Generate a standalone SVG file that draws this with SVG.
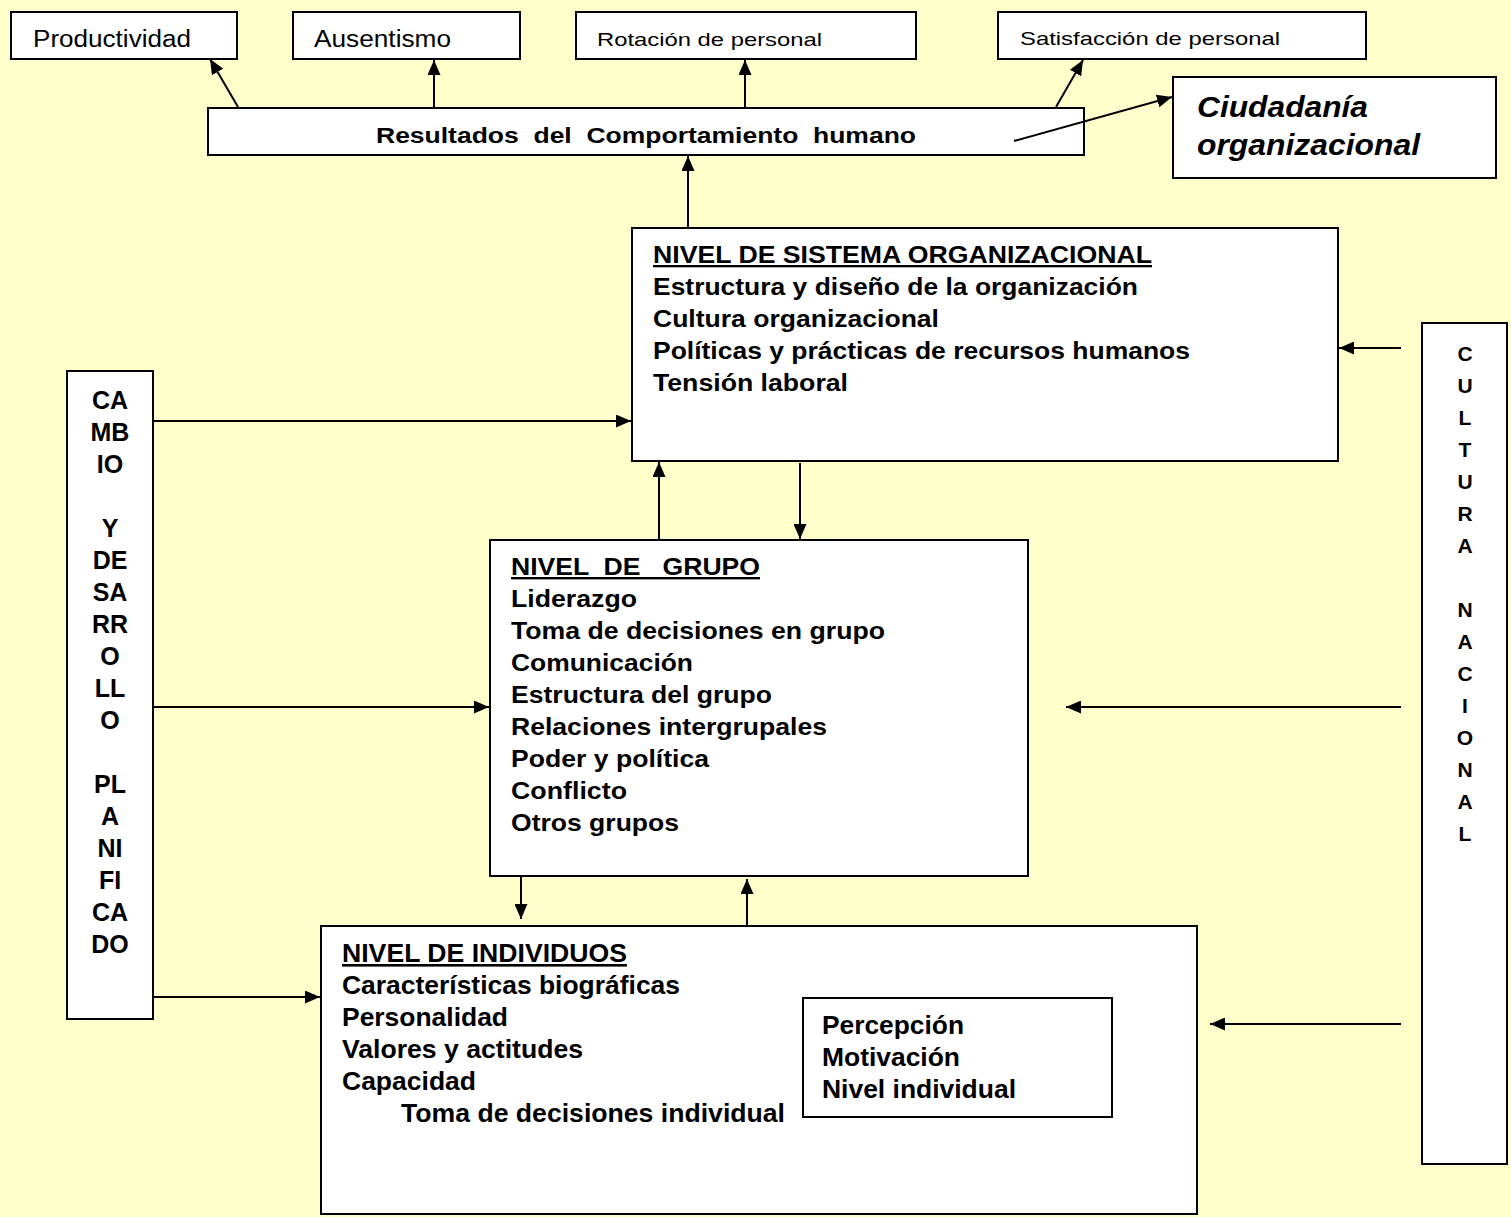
<svg xmlns="http://www.w3.org/2000/svg" width="1511" height="1217" viewBox="0 0 1511 1217">
<defs>
<marker id="ah" viewBox="0 0 15 13" refX="15" refY="6.5" markerWidth="15" markerHeight="13" markerUnits="userSpaceOnUse" orient="auto">
<path d="M0,0 L15,6.5 L0,13 Z" fill="#000"/>
</marker>
<style>
.box{fill:#fff;stroke:#000;stroke-width:2}
.t{font-family:"Liberation Sans",Arial,sans-serif;fill:#000}
.n{font-size:23px}
.s{font-size:19px}
.b{font-weight:bold;font-size:24px}
.bs{font-weight:bold;font-size:23px}
.bi{font-weight:bold;font-size:26px}
.v{font-weight:bold;font-size:25px;text-anchor:middle}
.vr{font-weight:bold;font-size:21px;text-anchor:middle}
.c{stroke:#000;stroke-width:2;fill:none;marker-end:url(#ah)}
</style>
</defs>
<rect width="1511" height="1217" fill="#FFFFCC"/>

<g id="productividad"><rect class="box" x="11" y="12" width="226" height="47"/><text class="t n" x="33" y="47" textLength="158" lengthAdjust="spacingAndGlyphs">Productividad</text></g>
<g id="ausentismo"><rect class="box" x="293" y="12" width="227" height="47"/><text class="t n" x="314" y="47" textLength="137" lengthAdjust="spacingAndGlyphs">Ausentismo</text></g>
<g id="rotacion"><rect class="box" x="576" y="12" width="340" height="47"/><text class="t s" x="597" y="46" textLength="225" lengthAdjust="spacingAndGlyphs">Rotación de personal</text></g>
<g id="satisfaccion"><rect class="box" x="998" y="12" width="368" height="47"/><text class="t s" x="1020" y="45" textLength="260" lengthAdjust="spacingAndGlyphs">Satisfacción de personal</text></g>
<g id="resultados"><rect class="box" x="208" y="108" width="876" height="47"/><text class="t" x="376" y="143" font-size="22" font-weight="bold" textLength="540" lengthAdjust="spacingAndGlyphs" xml:space="preserve">Resultados  del  Comportamiento  humano</text></g>
<g id="ciudadania"><rect class="box" x="1173" y="77" width="323" height="101"/><text class="t" x="1197" y="117" font-size="29" font-weight="bold" font-style="italic" textLength="171" lengthAdjust="spacingAndGlyphs">Ciudadanía</text><text class="t" x="1197" y="155" font-size="29" font-weight="bold" font-style="italic" textLength="223" lengthAdjust="spacingAndGlyphs">organizacional</text></g>

<g id="sistema"><rect class="box" x="632" y="228" width="706" height="233"/>
<text class="t bs" x="653" y="263" text-decoration="underline" textLength="499" lengthAdjust="spacingAndGlyphs">NIVEL DE SISTEMA ORGANIZACIONAL</text>
<text class="t bs" x="653" y="295" textLength="485" lengthAdjust="spacingAndGlyphs">Estructura y diseño de la organización</text>
<text class="t bs" x="653" y="327" textLength="286" lengthAdjust="spacingAndGlyphs">Cultura organizacional</text>
<text class="t bs" x="653" y="359" textLength="537" lengthAdjust="spacingAndGlyphs">Políticas y prácticas de recursos humanos</text>
<text class="t bs" x="653" y="391" textLength="195" lengthAdjust="spacingAndGlyphs">Tensión laboral</text>
</g>

<g id="grupo"><rect class="box" x="490" y="540" width="538" height="336"/>
<text class="t b" x="511" y="575" text-decoration="underline" textLength="249" lengthAdjust="spacingAndGlyphs" xml:space="preserve">NIVEL  DE   GRUPO</text>
<text class="t b" x="511" y="607" textLength="126" lengthAdjust="spacingAndGlyphs">Liderazgo</text>
<text class="t b" x="511" y="639" textLength="374" lengthAdjust="spacingAndGlyphs">Toma de decisiones en grupo</text>
<text class="t b" x="511" y="671" textLength="182" lengthAdjust="spacingAndGlyphs">Comunicación</text>
<text class="t b" x="511" y="703" textLength="261" lengthAdjust="spacingAndGlyphs">Estructura del grupo</text>
<text class="t b" x="511" y="735" textLength="316" lengthAdjust="spacingAndGlyphs">Relaciones intergrupales</text>
<text class="t b" x="511" y="767" textLength="198" lengthAdjust="spacingAndGlyphs">Poder y política</text>
<text class="t b" x="511" y="799" textLength="116" lengthAdjust="spacingAndGlyphs">Conflicto</text>
<text class="t b" x="511" y="831" textLength="168" lengthAdjust="spacingAndGlyphs">Otros grupos</text>
</g>

<g id="individuos"><rect class="box" x="321" y="926" width="876" height="288"/>
<text class="t bi" x="342" y="962" text-decoration="underline" textLength="285" lengthAdjust="spacingAndGlyphs">NIVEL DE INDIVIDUOS</text>
<text class="t bi" x="342" y="994" textLength="338" lengthAdjust="spacingAndGlyphs">Características biográficas</text>
<text class="t bi" x="342" y="1026" textLength="166" lengthAdjust="spacingAndGlyphs">Personalidad</text>
<text class="t bi" x="342" y="1058" textLength="241" lengthAdjust="spacingAndGlyphs">Valores y actitudes</text>
<text class="t bi" x="342" y="1090" textLength="134" lengthAdjust="spacingAndGlyphs">Capacidad</text>
<text class="t bi" x="401" y="1122" textLength="384" lengthAdjust="spacingAndGlyphs">Toma de decisiones individual</text>
</g>

<g id="individual-inner"><rect class="box" x="803" y="998" width="309" height="119"/>
<text class="t bi" x="822" y="1034" textLength="142" lengthAdjust="spacingAndGlyphs">Percepción</text>
<text class="t bi" x="822" y="1066" textLength="138" lengthAdjust="spacingAndGlyphs">Motivación</text>
<text class="t bi" x="822" y="1098" textLength="194" lengthAdjust="spacingAndGlyphs">Nivel individual</text>
</g>

<g id="cambio"><rect class="box" x="67" y="371" width="86" height="648"/>
<text class="t v" x="110" y="409">CA</text>
<text class="t v" x="110" y="441">MB</text>
<text class="t v" x="110" y="473">IO</text>
<text class="t v" x="110" y="537">Y</text>
<text class="t v" x="110" y="569">DE</text>
<text class="t v" x="110" y="601">SA</text>
<text class="t v" x="110" y="633">RR</text>
<text class="t v" x="110" y="665">O</text>
<text class="t v" x="110" y="697">LL</text>
<text class="t v" x="110" y="729">O</text>
<text class="t v" x="110" y="793">PL</text>
<text class="t v" x="110" y="825">A</text>
<text class="t v" x="110" y="857">NI</text>
<text class="t v" x="110" y="889">FI</text>
<text class="t v" x="110" y="921">CA</text>
<text class="t v" x="110" y="953">DO</text>
</g>

<g id="cultura"><rect class="box" x="1422" y="323" width="85" height="841"/>
<text class="t vr" x="1465" y="361">C</text>
<text class="t vr" x="1465" y="393">U</text>
<text class="t vr" x="1465" y="425">L</text>
<text class="t vr" x="1465" y="457">T</text>
<text class="t vr" x="1465" y="489">U</text>
<text class="t vr" x="1465" y="521">R</text>
<text class="t vr" x="1465" y="553">A</text>
<text class="t vr" x="1465" y="617">N</text>
<text class="t vr" x="1465" y="649">A</text>
<text class="t vr" x="1465" y="681">C</text>
<text class="t vr" x="1465" y="713">I</text>
<text class="t vr" x="1465" y="745">O</text>
<text class="t vr" x="1465" y="777">N</text>
<text class="t vr" x="1465" y="809">A</text>
<text class="t vr" x="1465" y="841">L</text>
</g>

<g id="connectors">
<line class="c" x1="238" y1="107" x2="210" y2="59"/>
<line class="c" x1="434" y1="107" x2="434" y2="60"/>
<line class="c" x1="745" y1="107" x2="745" y2="60"/>
<line class="c" x1="1056" y1="107" x2="1083" y2="60"/>
<line class="c" x1="1014" y1="141" x2="1172" y2="97"/>
<line class="c" x1="688" y1="227" x2="688" y2="156"/>
<line class="c" x1="659" y1="539" x2="659" y2="462"/>
<line class="c" x1="800" y1="463" x2="800" y2="539"/>
<line class="c" x1="521" y1="877" x2="521" y2="919"/>
<line class="c" x1="747" y1="925" x2="747" y2="879"/>
<line class="c" x1="153" y1="421" x2="631" y2="421"/>
<line class="c" x1="153" y1="707" x2="489" y2="707"/>
<line class="c" x1="153" y1="997" x2="320" y2="997"/>
<line class="c" x1="1401" y1="348" x2="1339" y2="348"/>
<line class="c" x1="1401" y1="707" x2="1066" y2="707"/>
<line class="c" x1="1401" y1="1024" x2="1210" y2="1024"/>
</g>
</svg>
